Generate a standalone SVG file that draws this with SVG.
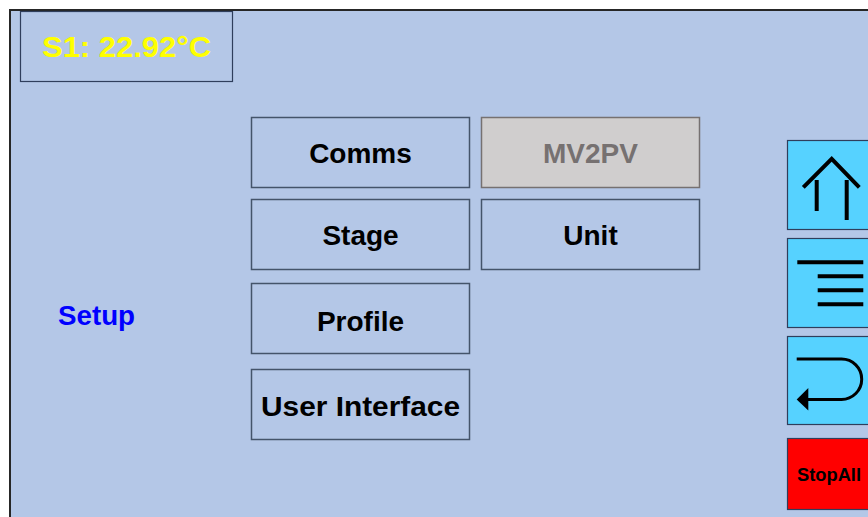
<svg xmlns="http://www.w3.org/2000/svg" width="868" height="517" viewBox="0 0 868 517">
  <style>
    .lbl { font-family: "Liberation Sans", Arial, sans-serif; font-weight: bold; text-anchor: middle; }
    .btn { fill: #B4C7E7; stroke: #44546A; stroke-width: 1.5; }
    .nav { fill: #56D2FF; stroke: #2F3E5C; stroke-width: 1.2; }
    .icon { fill: none; stroke: #000; stroke-width: 4; }
  </style>
  <rect width="868" height="517" fill="#FFFFFF"/>
  <!-- screen panel -->
  <rect x="10" y="10" width="870" height="520" fill="#B4C7E7" stroke="#262626" stroke-width="2"/>

  <!-- temperature readout -->
  <g id="temp">
    <rect x="20.5" y="11.5" width="212" height="70" fill="#B4C7E7" stroke="#2F3E5C" stroke-width="1.2"/>
    <text class="lbl" x="126.5" y="57" font-size="30" fill="#FFFF00" textLength="169" lengthAdjust="spacingAndGlyphs">S1: 22.92°C</text>
  </g>

  <g id="setup">
    <text class="lbl" x="96.5" y="325" font-size="27" fill="#0000FF" textLength="77" lengthAdjust="spacingAndGlyphs">Setup</text>
  </g>

  <!-- menu buttons -->
  <g id="comms">
    <rect class="btn" x="251.5" y="117.5" width="218" height="70"/>
    <text class="lbl" x="360.5" y="163" font-size="28" fill="#000">Comms</text>
  </g>
  <g id="mv2pv">
    <rect x="481.5" y="117.5" width="218" height="70" fill="#D0CECE" stroke="#767171" stroke-width="1.5"/>
    <text class="lbl" x="590.5" y="163" font-size="28" fill="#767171">MV2PV</text>
  </g>
  <g id="stage">
    <rect class="btn" x="251.5" y="199.5" width="218" height="70"/>
    <text class="lbl" x="360.5" y="245" font-size="28" fill="#000">Stage</text>
  </g>
  <g id="unit">
    <rect class="btn" x="481.5" y="199.5" width="218" height="70"/>
    <text class="lbl" x="590.5" y="245" font-size="28" fill="#000">Unit</text>
  </g>
  <g id="profile">
    <rect class="btn" x="251.5" y="283.5" width="218" height="70"/>
    <text class="lbl" x="360.5" y="331" font-size="28" fill="#000">Profile</text>
  </g>
  <g id="user-interface">
    <rect class="btn" x="251.5" y="369.5" width="218" height="70"/>
    <text class="lbl" x="360.5" y="416" font-size="28" fill="#000" textLength="199" lengthAdjust="spacingAndGlyphs">User Interface</text>
  </g>

  <!-- side navigation -->
  <g id="nav-up">
    <rect class="nav" x="787.5" y="140.5" width="90" height="89"/>
    <polyline class="icon" points="803.3,187.3 831.7,158.8 859.3,187.3"/>
    <line class="icon" x1="816.7" y1="180" x2="816.7" y2="211"/>
    <line class="icon" x1="846.7" y1="180" x2="846.7" y2="220"/>
  </g>
  <g id="nav-menu">
    <rect class="nav" x="787.5" y="238.5" width="90" height="89"/>
    <line class="icon" x1="797.3" y1="262.3" x2="863.3" y2="262.3"/>
    <line class="icon" x1="817.7" y1="276.3" x2="863.3" y2="276.3"/>
    <line class="icon" x1="817.7" y1="290.3" x2="863.3" y2="290.3"/>
    <line class="icon" x1="817.7" y1="304.3" x2="863.3" y2="304.3"/>
  </g>
  <g id="nav-back">
    <rect class="nav" x="787.5" y="336.5" width="90" height="88"/>
    <path d="M796.7,359 H841.5 A20.2,20.2 0 0 1 841.5,399.4 H806" fill="none" stroke="#000" stroke-width="3"/>
    <polygon points="796.7,399.4 808.3,388 808.3,410.5" fill="#000"/>
  </g>
  <g id="stop-all">
    <rect x="787.5" y="438.5" width="90" height="71" fill="#FF0000" stroke="#2F3E5C" stroke-width="1.2"/>
    <text class="lbl" x="829" y="481" font-size="18" fill="#000" textLength="64" lengthAdjust="spacingAndGlyphs">StopAll</text>
  </g>
</svg>
